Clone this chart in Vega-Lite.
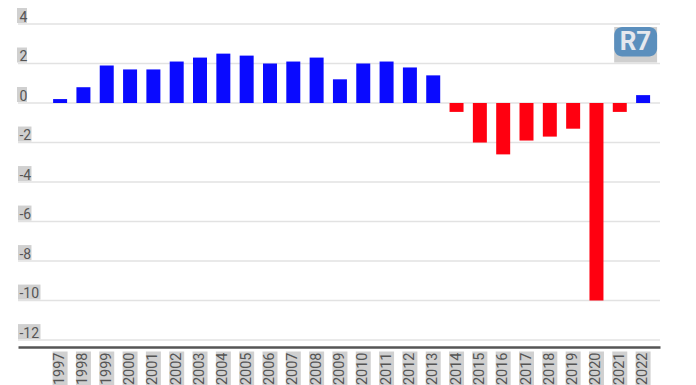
{
  "$schema": "https://vega.github.io/schema/vega-lite/v6.json",
  "width": 642,
  "height": 323,
  "autosize": {"type": "none"},
  "padding": {"left": 18, "top": 24, "right": 36, "bottom": 38},
  "background": "#ffffff",
  "config": {"view": {"stroke": null}, "font": "Roboto"},
  "datasets": {
    "ticks": [
      {"tick": 4, "label": "4"},
      {"tick": 2, "label": "2"},
      {"tick": 0, "label": "0"},
      {"tick": -2, "label": "-2"},
      {"tick": -4, "label": "-4"},
      {"tick": -6, "label": "-6"},
      {"tick": -8, "label": "-8"},
      {"tick": -10, "label": "-10"},
      {"tick": -12, "label": "-12"}
    ]
  },
  "data": {
    "values": [
      {"year": "1997", "v": 0.2},
      {"year": "1998", "v": 0.8},
      {"year": "1999", "v": 1.9},
      {"year": "2000", "v": 1.7},
      {"year": "2001", "v": 1.7},
      {"year": "2002", "v": 2.1},
      {"year": "2003", "v": 2.3},
      {"year": "2004", "v": 2.5},
      {"year": "2005", "v": 2.4},
      {"year": "2006", "v": 2.0},
      {"year": "2007", "v": 2.1},
      {"year": "2008", "v": 2.3},
      {"year": "2009", "v": 1.2},
      {"year": "2010", "v": 2.0},
      {"year": "2011", "v": 2.1},
      {"year": "2012", "v": 1.8},
      {"year": "2013", "v": 1.4},
      {"year": "2014", "v": -0.45},
      {"year": "2015", "v": -2.0},
      {"year": "2016", "v": -2.6},
      {"year": "2017", "v": -1.9},
      {"year": "2018", "v": -1.7},
      {"year": "2019", "v": -1.3},
      {"year": "2020", "v": -10.0},
      {"year": "2021", "v": -0.45},
      {"year": "2022", "v": 0.4}
    ]
  },
  "layer": [
    {
      "data": {"name": "ticks"},
      "mark": {"type": "rule", "color": "#e2e2e2", "strokeWidth": 1.5},
      "encoding": {
        "y": {"field": "tick", "type": "quantitative", "title": null}
      }
    },
    {
      "mark": {"type": "bar"},
      "encoding": {
        "x": {
          "field": "year", "type": "ordinal",
          "scale": {"paddingInner": 0.4, "paddingOuter": 0.965, "align": 0.78},
          "axis": {
            "title": null, "labelAngle": -90, "labelFontSize": 14.5, "labelColor": "#555555",
            "labelPadding": 5, "ticks": false, "tickSize": 0, "domainColor": "#555555", "domainWidth": 2.5,
            "grid": false, "zindex": 2
          }
        },
        "y": {
          "field": "v", "type": "quantitative",
          "scale": {"domain": [-12.35, 4], "nice": false, "zero": false},
          "axis": {
            "title": null, "values": [-12, -10, -8, -6, -4, -2, 0, 2, 4],
            "labelExpr": "toString(datum.value)",
            "domain": false, "ticks": false, "tickSize": 0, "labelAlign": "left", "labelBaseline": "alphabetic",
            "labelPadding": -1, "labelOffset": -3, "labelFontSize": 14, "labelColor": "#555555",
            "grid": false, "zindex": 2
          }
        },
        "color": {
          "condition": {"test": "datum.v >= 0", "value": "#0a0aff"},
          "value": "#ff0010"
        }
      }
    },
    {
      "data": {"name": "ticks"},
      "mark": {"type": "point", "filled": true, "size": 4, "opacity": 1, "strokeWidth": 0, "color": "#d0d0d0"},
      "encoding": {
        "x": {"datum": "1997", "bandPosition": -2.51},
        "y": {"field": "tick", "type": "quantitative"},
        "shape": {
          "condition": [
            {"test": "length(datum.label) == 1", "value": "M-1,-16H9V-1H-1Z"},
            {"test": "length(datum.label) == 2", "value": "M0,-16H13.5V-1H0Z"}
          ],
          "value": "M0,-16H22.5V-1H0Z"
        }
      }
    },
    {
      "mark": {"type": "point", "filled": true, "size": 4, "opacity": 1, "strokeWidth": 0, "color": "#d0d0d0", "shape": "M-7.5,4.5H7.5V45H-7.5Z"},
      "encoding": {
        "x": {"field": "year", "type": "ordinal"},
        "y": {"datum": -12.35}
      }
    },
    {
      "data": {"values": [{"logo": "R7"}]},
      "mark": {"type": "rect", "fill": "#cfcfcf"},
      "encoding": {
        "x": {"datum": "2021", "bandPosition": 0.1},
        "x2": {"datum": "2022", "bandPosition": 1.5},
        "y": {"datum": 3.85},
        "y2": {"datum": 2.05}
      }
    },
    {
      "data": {"values": [{"logo": "R7"}]},
      "mark": {"type": "rect", "fill": "#5b8fbd", "cornerRadius": 8},
      "encoding": {
        "x": {"datum": "2021", "bandPosition": 0.1},
        "x2": {"datum": "2022", "bandPosition": 1.5},
        "y": {"datum": 3.85},
        "y2": {"datum": 2.35}
      }
    },
    {
      "data": {"values": [{"logo": "R7"}]},
      "mark": {"type": "text", "fontSize": 26, "fontWeight": "bold", "color": "#e4e8ee", "baseline": "middle", "align": "center"},
      "encoding": {
        "x": {"datum": "2022", "bandPosition": -0.05},
        "y": {"datum": 3.1},
        "text": {"field": "logo"}
      }
    }
  ]
}
